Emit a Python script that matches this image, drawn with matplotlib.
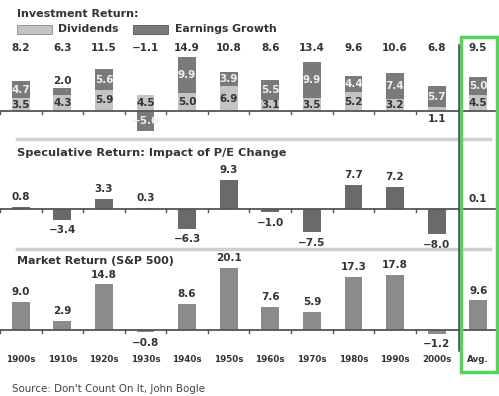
import matplotlib.pyplot as plt
from matplotlib.patches import Rectangle
from matplotlib.lines import Line2D

plt.rcParams['font.family'] = ['DejaVu Sans']

# data
decades = ["1900s", "1910s", "1920s", "1930s", "1940s", "1950s", "1960s",
           "1970s", "1980s", "1990s", "2000s", "Avg."]
dividends = [3.5, 4.3, 5.9, 4.5, 5.0, 6.9, 3.1, 3.5, 5.2, 3.2, 1.1, 4.5]
earnings = [4.7, 2.0, 5.6, -5.6, 9.9, 3.9, 5.5, 9.9, 4.4, 7.4, 5.7, 5.0]
investment = [8.2, 6.3, 11.5, -1.1, 14.9, 10.8, 8.6, 13.4, 9.6, 10.6, 6.8, 9.5]
speculative = [0.8, -3.4, 3.3, 0.3, -6.3, 9.3, -1.0, -7.5, 7.7, 7.2, -8.0, 0.1]
market = [9.0, 2.9, 14.8, -0.8, 8.6, 20.1, 7.6, 5.9, 17.3, 17.8, -1.2, 9.6]

W, H = 499, 396
fig = plt.figure(figsize=(W / 100, H / 100), dpi=100)

C_DIV = "#c4c4c4"
C_EARN = "#7a7a7a"
C_SPEC = "#6a6a6a"
C_MKT = "#8b8b8b"
C_TXT = "#333333"
C_AXIS = "#555555"
NUM_FS = 7.5


def fmt(v):
    s = f"{abs(v):.1f}"
    return "\u2212" + s if v < 0 else s


def fx(x):
    return x / W


def fy(y):
    return 1 - y / H


def add_panel(y_top, y_bot, base, scale):
    ax = fig.add_axes([0, fy(y_bot), 1, (y_bot - y_top) / H])
    ax.set_xlim(-0.5, 11.5)
    ax.set_ylim(-(y_bot - base) / scale, (base - y_top) / scale)
    ax.axis("off")
    # baseline and ticks
    ax.axhline(0, color=C_AXIS, lw=1.3, zorder=3)
    tick = 3.0 / scale
    for b in range(11):
        ax.plot([b - 0.5, b - 0.5], [0, -tick], color=C_AXIS, lw=1.0, zorder=3)
    return ax


x = list(range(len(decades)))
bw = 0.43

# panel 1: investment return
ax1 = add_panel(40, 136, 111, 3.62)
ax1.bar(x, dividends, bw, color=C_DIV, zorder=2)
earn_bottom = [d if e >= 0 else 0 for d, e in zip(dividends, earnings)]
ax1.bar(x, earnings, bw, bottom=earn_bottom, color=C_EARN, zorder=2)
for i in x:
    d, e = dividends[i], earnings[i]
    if d >= 2:
        ax1.text(i, d / 2, fmt(d), ha="center", va="center", fontsize=NUM_FS,
                 fontweight="bold", color=C_TXT, zorder=4)
    else:
        ax1.text(i, -2.1, fmt(d), ha="center", va="center", fontsize=NUM_FS,
                 fontweight="bold", color=C_TXT, zorder=4)
    if abs(e) >= 3:
        yc = d + e / 2 if e >= 0 else e / 2
        ax1.text(i, yc, fmt(e), ha="center", va="center", fontsize=NUM_FS,
                 fontweight="bold", color="#eeeeee", zorder=4)
    else:
        ax1.text(i, d + e + 2.1, fmt(e), ha="center", va="center", fontsize=NUM_FS,
                 fontweight="bold", color=C_TXT, zorder=4)
    fig.text(fx(20.8 + 41.58 * i), fy(48), fmt(investment[i]), ha="center",
             va="center", fontsize=NUM_FS, fontweight="bold", color=C_TXT)

# panel 2: speculative return
ax2 = add_panel(165, 245, 209, 3.12)
ax2.bar(x, speculative, bw, color=C_SPEC, zorder=2)
for i, v in enumerate(speculative):
    off = 3.2 if v >= 0 else -3.4
    ax2.text(i, v + off, fmt(v), ha="center", va="center", fontsize=NUM_FS,
             fontweight="bold", color=C_TXT)

# panel 3: market return
ax3 = add_panel(262, 350, 330, 3.08)
ax3.bar(x, market, bw, color=C_MKT, zorder=2)
for i, v in enumerate(market):
    off = 3.2 if v >= 0 else -3.3
    ax3.text(i, v + off, fmt(v), ha="center", va="center", fontsize=NUM_FS,
             fontweight="bold", color=C_TXT)
for i, lab in enumerate(decades):
    fig.text(fx(20.8 + 41.58 * i), fy(359), lab, ha="center", va="center",
             fontsize=6.3, fontweight="bold", color=C_TXT)

# titles and legend
fig.text(fx(17), fy(14), "Investment Return:", ha="left", va="center",
         fontsize=8, fontweight="bold", color=C_TXT)
fig.patches.append(Rectangle((fx(17), fy(34)), fx(35), 9 / H, transform=fig.transFigure,
                             facecolor=C_DIV, edgecolor="#888888", lw=0.6))
fig.text(fx(58), fy(29.5), "Dividends", ha="left", va="center",
         fontsize=7.8, fontweight="bold", color=C_TXT)
fig.patches.append(Rectangle((fx(133), fy(34)), fx(35), 9 / H, transform=fig.transFigure,
                             facecolor=C_EARN, edgecolor="#555555", lw=0.6))
fig.text(fx(175), fy(29.5), "Earnings Growth", ha="left", va="center",
         fontsize=7.8, fontweight="bold", color=C_TXT)
fig.text(fx(17), fy(153), "Speculative Return: Impact of P/E Change", ha="left",
         va="center", fontsize=8.2, fontweight="bold", color=C_TXT)
fig.text(fx(17), fy(261), "Market Return (S&P 500)", ha="left", va="center",
         fontsize=8, fontweight="bold", color=C_TXT)
fig.text(fx(12), fy(389), "Source: Don't Count On It, John Bogle", ha="left",
         va="center", fontsize=7.4, color="#444444")

# separators
for ys in (139, 249):
    fig.lines.append(Line2D([fx(17), fx(490)], [fy(ys), fy(ys)], transform=fig.transFigure,
                            color="#cfcfcf", lw=2.5))

# average divider and highlight box
fig.lines.append(Line2D([fx(458.5), fx(458.5)], [fy(45), fy(350)], transform=fig.transFigure,
                        color="#444444", lw=1.8))
fig.patches.append(Rectangle((fx(461), fy(372)), fx(36), (372 - 37) / H,
                             transform=fig.transFigure, facecolor="none",
                             edgecolor="#55d45a", lw=2.5, zorder=10))

fig.savefig("out.png", dpi=100)
